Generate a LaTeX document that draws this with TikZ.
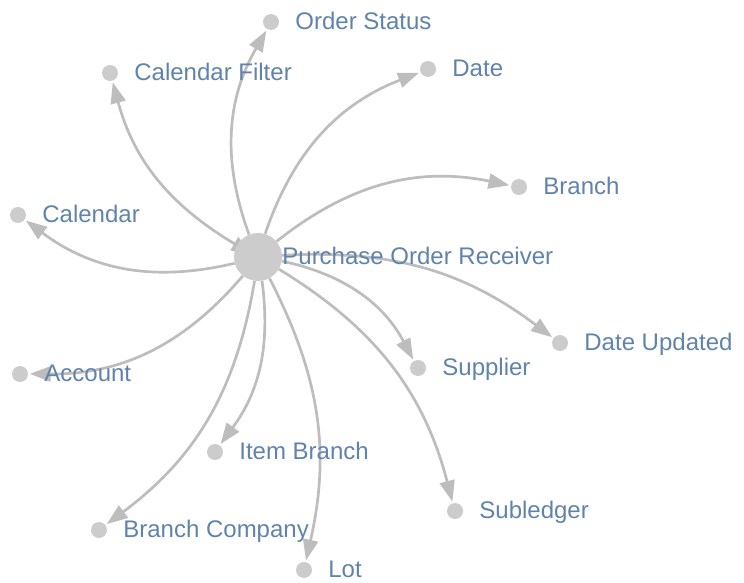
\documentclass[tikz,border=0pt]{standalone}
\usepackage{fontspec}
\setmainfont{Liberation Sans}
\usepackage{tikz}
\usetikzlibrary{arrows.meta,positioning,backgrounds}

\definecolor{dotgray}{HTML}{CCCCCC}
\definecolor{linkgray}{HTML}{BDBDBD}
\definecolor{labelblue}{HTML}{5F83AB}

\begin{document}
\begin{tikzpicture}[x=1pt,y=1pt]

% --- STYLES ---
\tikzset{
  hub/.style={circle, fill=dotgray, minimum size=48pt, inner sep=0pt},
  leafdot/.style={circle, fill=dotgray, minimum size=16pt, inner sep=0pt},
  leaflabel/.style={font=\fontsize{24}{28}\selectfont, text=labelblue,
                   inner sep=0pt, anchor=base west, yshift=-0.36em},
  link/.style={linkgray, line width=2.7pt, shorten >=1.5pt,
               -{Triangle[length=21pt, width=15pt]}},
}

% --- ENTITY MACRO: dot + label ---
\newcommand{\entity}[4]{
  \node[leafdot] (#1) at (#2,#3) {};
  \node[leaflabel, right=16pt of #1, anchor=base west, yshift=-0.36em] (#1-l) {#4};
}

\useasboundingbox (0,0) rectangle (744,582);

% ================= CENTRAL ENTITY =================
\node[hub] (por) at (258,325) {};
\node[leaflabel, right=0pt of por, anchor=base west, yshift=-0.36em] (por-l) {Purchase Order Receiver};

% ================= RELATED ENTITIES =================
\entity{ostatus}{271}{560}{Order Status}
\entity{calfilter}{110}{509}{Calendar Filter}
\entity{date}{428}{513}{Date}
\entity{branch}{519}{395}{Branch}
\entity{calendar}{18}{367}{Calendar}
\entity{dupdated}{560}{239}{Date Updated}
\entity{supplier}{418}{214}{Supplier}
\entity{account}{20}{208}{Account}
\entity{itembranch}{215}{130}{Item Branch}
\entity{subledger}{455}{71}{Subledger}
\entity{branchco}{99}{52}{Branch Company}
\entity{lot}{304}{12}{Lot}

% ================= CURVED LINKS =================
\begin{scope}[on background layer]
  \draw[link] (por) to[bend left=25] (ostatus);
  \draw[link, {Triangle[length=21pt, width=15pt]}-{Triangle[length=21pt, width=15pt]},
        shorten <=-18pt] (por) to[bend left=22] (calfilter);
  \draw[link] (por) to[bend left=25] (date);
  \draw[link] (por) to[bend left=25] (branch);
  \draw[link] (por) to[bend left=25] (calendar);
  \draw[link] (por) to[bend left=20] (dupdated);
  \draw[link] (por) to[bend left=25] (supplier);
  \draw[link] (por) to[bend left=25] (account);
  \draw[link] (por) to[bend left=22] (itembranch);
  \draw[link] (por) to[bend left=22] (subledger);
  \draw[link] (por) to[bend left=22] (branchco);
  \draw[link] (por) to[bend left=20] (lot);
\end{scope}

\end{tikzpicture}
\end{document}
